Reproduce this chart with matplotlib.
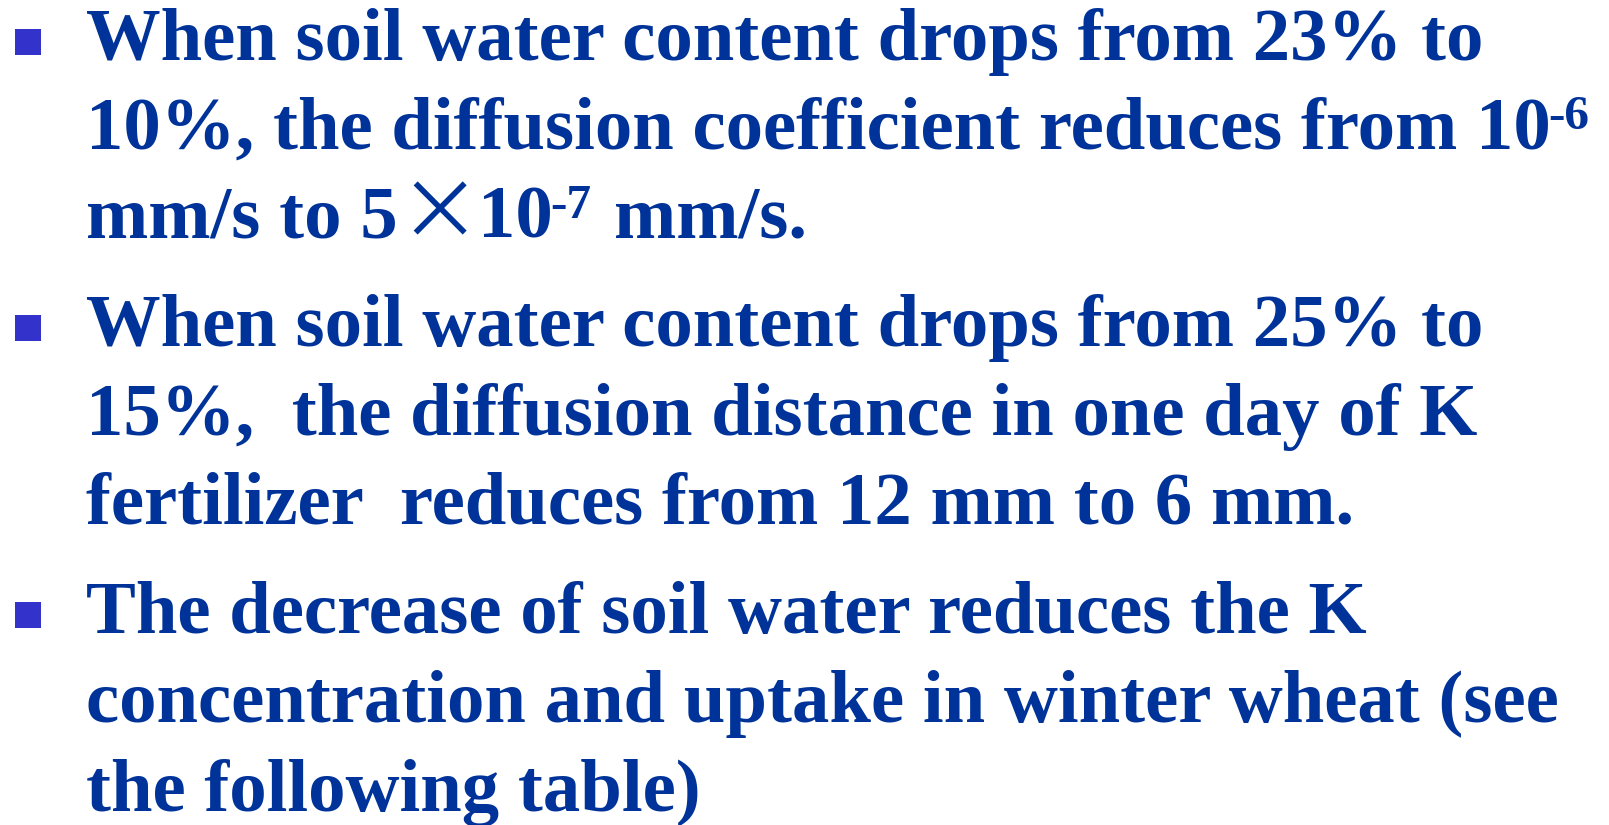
import matplotlib
matplotlib.use("Agg")
import matplotlib.pyplot as plt
from matplotlib.patches import Rectangle

# slide text: each line is a list of (text, kind) pieces
# kind: "n" normal, "sup" superscript, "x" thin times sign
para1 = [
    [("When soil water content drops from 23% to", "n")],
    [("10%, the diffusion coefficient reduces from 10", "n"), ("-6", "sup")],
    [("mm/s to 5", "n"), ("\u00d7", "x"), ("10", "n"), ("-7", "sup"), (" mm/s.", "n")],
]
para2 = [
    [("When soil water content drops from 25% to", "n")],
    [("15%,  the diffusion distance in one day of K", "n")],
    [("fertilizer  reduces from 12 mm to 6 mm.", "n")],
]
para3 = [
    [("The decrease of soil water reduces the K", "n")],
    [("concentration and uptake in winter wheat (see", "n")],
    [("the following table)", "n")],
]
paragraphs = [para1, para2, para3]
baselines = [[60, 149, 238], [346, 435, 524], [633, 722, 811]]

text_color = "#003399"
bullet_color = "#3333CC"
font = "Liberation Serif"

fig = plt.figure(figsize=(16.09, 8.25), dpi=100)
ax = fig.add_axes([0, 0, 1, 1])
ax.set_xlim(0, 1609)
ax.set_ylim(825, 0)
ax.axis("off")
r = fig.canvas.get_renderer()

def width(s, size, **kw):
    t = ax.text(0, 0, s, fontsize=size, family=font, fontweight="bold", **kw)
    w = t.get_window_extent(r).width
    t.remove()
    return w

# size the font so the first line spans the same width as the slide
fs = 40 * 1397 / width(para1[0][0][0], 40)
space = width("a a", fs) - width("aa", fs)

x0 = 86
for para, ys in zip(paragraphs, baselines):
    ax.add_patch(Rectangle((15, ys[0] - 31), 26, 26, color=bullet_color, lw=0))
    for line, y in zip(para, ys):
        x = x0
        for s, kind in line:
            if s.startswith(" "):
                x += space
                s = s.lstrip()
            if kind == "n":
                t = ax.text(x, y, s, fontsize=fs, family=font, fontweight="bold",
                            color=text_color, va="baseline")
                x += t.get_window_extent(r).width
            elif kind == "sup":
                t = ax.text(x - 2, y - 20, s, fontsize=fs * 0.66, family=font,
                            fontweight="bold", color=text_color, va="baseline")
                x += t.get_window_extent(r).width + 2
            else:
                ax.text(x + 42, y + 1, s, fontsize=fs * 1.1,
                        family=["Noto Sans CJK SC", "DejaVu Sans"],
                        fontweight="light", color=text_color,
                        va="baseline", ha="center")
                x += 80

fig.savefig("out.png", dpi=100)
